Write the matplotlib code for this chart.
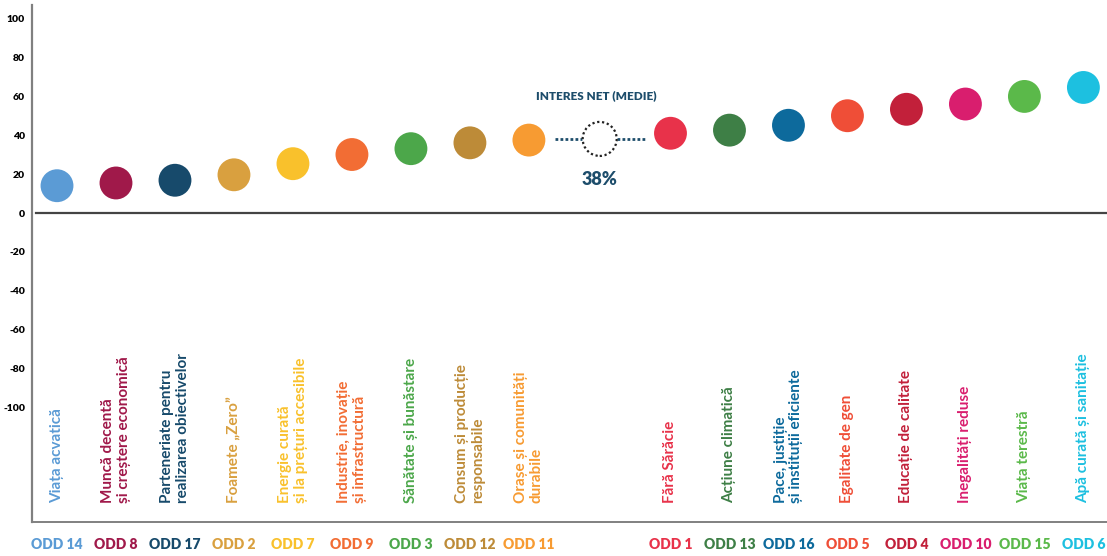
import numpy as np
import matplotlib
matplotlib.use("Agg")
import matplotlib.pyplot as plt

# --- Data: net interest per SDG (ODD), sorted ascending ---
codes = ["ODD 14", "ODD 8", "ODD 17", "ODD 2", "ODD 7", "ODD 9", "ODD 3", "ODD 12", "ODD 11",
         "ODD 1", "ODD 13", "ODD 16", "ODD 5", "ODD 4", "ODD 10", "ODD 15", "ODD 6"]
names = ["Viața acvatică",
         "Muncă decentă\nși creștere economică",
         "Parteneriate pentru\nrealizarea obiectivelor",
         "Foamete „Zero”",
         "Energie curată\nși la prețuri accesibile",
         "Industrie, inovație\nși infrastructură",
         "Sănătate și bunăstare",
         "Consum și producție\nresponsabile",
         "Orașe și comunități\ndurabile",
         "Fără Sărăcie",
         "Acțiune climatică",
         "Pace, justiție\nși instituții eficiente",
         "Egalitate de gen",
         "Educație de calitate",
         "Inegalități reduse",
         "Viața terestră",
         "Apă curată și sanitație"]
values = [14, 15.4, 16.8, 19.6, 25.3, 30, 33, 36, 37.4,
          40.9, 42.5, 45, 49.9, 53.2, 55.9, 59.8, 64.4]
colors = ["#5B9BD5", "#A0194A", "#174A6B", "#D9A03F", "#F9C12C", "#F26D34", "#4CA74A", "#BD8B38", "#F79B32",
          "#E8324A", "#3E7F46", "#0D6A9C", "#EF4E37", "#C2203A", "#D91E6E", "#5BB94A", "#1DC0E0"]
mean_value = 38
mean_label = "INTERES NET (MEDIE)"

yticks = [100, 80, 60, 40, 20, 0, -20, -40, -60, -80, -100]

navy = "#1D4D6B"
plt.rcParams['font.family'] = ['Lato', 'DejaVu Sans']

# positions: below-mean group, gap for the mean marker, above-mean group
n_low = sum(v < mean_value for v in values)
gap = 1.4
xs = np.array([i if i < n_low else i + gap for i in range(len(values))])
mean_x = (xs[n_low - 1] + xs[n_low]) / 2

fig = plt.figure(figsize=(11.07, 5.56), dpi=100)
ax = fig.add_axes([0.0289, 0.0612, 0.9711, 0.9298])
ax.set_xlim(-0.424, 17.8)
ax.set_ylim(-158.5, 106.7)

# spines
for s in ["top", "right"]:
    ax.spines[s].set_visible(False)
ax.spines["left"].set_color("#808080")
ax.spines["left"].set_linewidth(1.6)
ax.spines["bottom"].set_color("#808080")
ax.spines["bottom"].set_linewidth(1.4)
ax.axhline(0, xmin=0.004, color="#444444", lw=1.6, zorder=1)

ax.set_xticks([])
ax.set_yticks(yticks)
ax.set_yticklabels([str(t) for t in yticks], fontsize=7.5, fontweight="heavy")
ax.tick_params(axis="y", length=0, pad=5)

# dots
ax.scatter(xs, values, s=560, c=colors, edgecolors="none", zorder=3)

# mean marker
ax.scatter([mean_x], [mean_value], s=600, facecolors="white", edgecolors="#222222",
           linewidths=1.6, linestyles=(0, (1, 1.2)), zorder=3)
ax.plot([mean_x - 0.76, mean_x - 0.3], [mean_value, mean_value], ls=(0, (1, 0.8)), lw=2, color=navy, zorder=2)
ax.plot([mean_x + 0.3, mean_x + 0.76], [mean_value, mean_value], ls=(0, (1, 0.8)), lw=2, color=navy, zorder=2)
ax.text(mean_x - 0.05, mean_value + 22, mean_label, ha="center", va="center",
        fontsize=8.5, fontweight="heavy", color=navy)
ax.text(mean_x, mean_value - 21, f"{mean_value}%", ha="center", va="center",
        fontsize=13, fontweight="heavy", color=navy)

# rotated names and ODD codes
for x, name, code, col in zip(xs, names, codes, colors):
    ax.text(x, -148.7, name, rotation=90, ha="center", va="bottom", multialignment="left",
            fontsize=11, fontweight="bold", color=col, linespacing=1.15)
    ax.text(x, -170.3, code, ha="center", va="center", fontsize=10, fontweight="heavy",
            color=col, clip_on=False)

fig.savefig("out.png", dpi=100)
